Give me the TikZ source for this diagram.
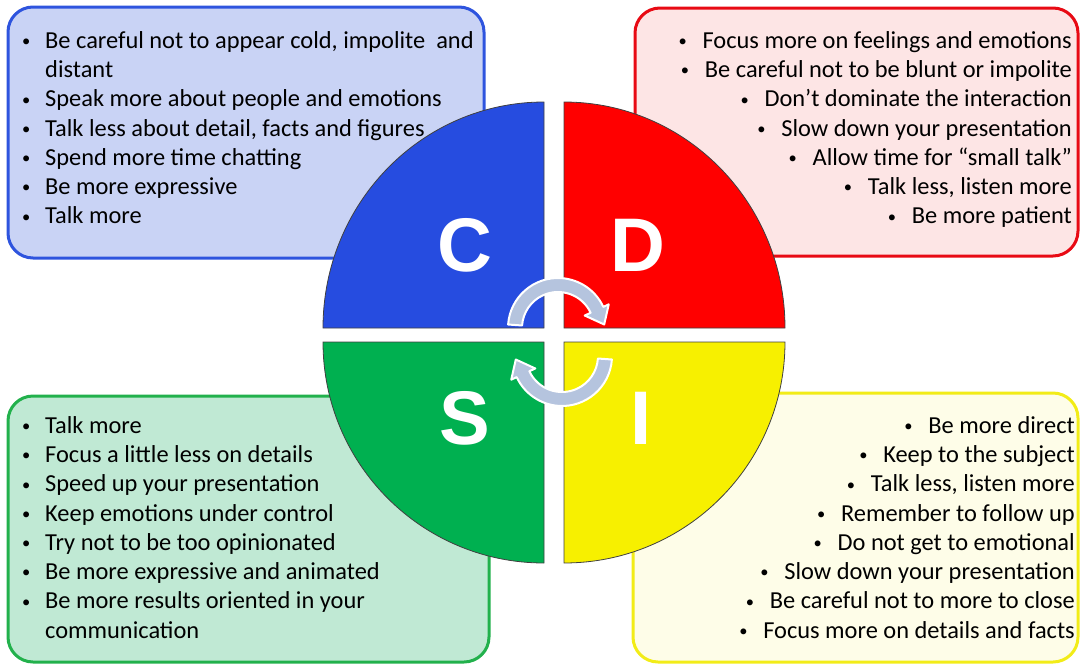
\documentclass[tikz,border=0pt]{standalone}
\usepackage{fontspec}
\setmainfont{Carlito}
\newfontfamily\letterfont{Liberation Sans}
\definecolor{cblue}{RGB}{38,76,224}
\definecolor{cred}{RGB}{255,0,0}
\definecolor{cgreen}{RGB}{0,176,80}
\definecolor{cyellow}{RGB}{247,240,0}
\definecolor{bluebd}{RGB}{46,84,222}
\definecolor{bluebg}{RGB}{201,211,245}
\definecolor{redbd}{RGB}{232,10,20}
\definecolor{redbg}{RGB}{253,229,229}
\definecolor{greenbd}{RGB}{34,177,76}
\definecolor{greenbg}{RGB}{192,233,212}
\definecolor{yellowbd}{RGB}{242,236,24}
\definecolor{yellowbg}{RGB}{254,253,232}
\definecolor{cycgray}{RGB}{181,196,222}
\newcommand\dotmark{\raisebox{1.6pt}{\fontsize{16.5}{16.5}\selectfont •}}
\newcommand\lbul{\makebox[24pt][l]{\hspace{1pt}\dotmark}}
\newcommand\rbul{\makebox[24pt][l]{\dotmark}}
\begin{document}
\begin{tikzpicture}[x=1pt,y=-1pt,
  box/.style={line width=3pt,rounded corners=25pt},
  quad/.style={draw=black!75,line width=0.8pt},
  letter/.style={text=white,font=\letterfont\bfseries\fontsize{76}{76}\selectfont},
  item/.style={inner sep=0pt,font=\fontsize{24.4}{29.25}\selectfont},
  cyc/.style={fill=cycgray,draw=white,line width=2pt,line join=round}]
  \useasboundingbox (0,0) rectangle (1080,665);
  \draw[box,draw=bluebd,fill=bluebg] (8,7) rectangle (484,258);
  \draw[box,draw=redbd,fill=redbg] (635,8) rectangle (1078,256);
  \draw[box,draw=greenbd,fill=greenbg] (8,396) rectangle (489,662);
  \draw[box,draw=yellowbd,fill=yellowbg] (633,393) rectangle (1078,662);
  \filldraw[quad,fill=cblue] (544,328) -- (323,328) arc[start angle=180,end angle=270,x radius=221,y radius=226] -- cycle;
  \filldraw[quad,fill=cred] (564,328) -- (564,102) arc[start angle=270,end angle=360,x radius=221,y radius=226] -- cycle;
  \filldraw[quad,fill=cgreen] (544,342) -- (323,342) arc[start angle=180,end angle=90,x radius=221,y radius=221] -- cycle;
  \filldraw[quad,fill=cyellow] (564,342) -- (785,342) arc[start angle=0,end angle=90,x radius=221,y radius=221] -- cycle;
  \node[letter] (C) at (465,245) {C};
  \node[letter] (D) at (638,245) {D};
  \node[letter] (S) at (465,418) {S};
  \node[letter] (I) at (641,418) {I};
  \begin{scope}[shift={(558,328)}]
    \filldraw[cyc] (184:50) arc[start angle=184,end angle=335,radius=50] -- (335:56) -- (46.2,-3.5) -- (335:29.5) -- (335:36) arc[start angle=335,end angle=184,radius=36] -- cycle;
  \end{scope}
  \begin{scope}[shift={(562,356)}]
    \filldraw[cyc] (4:50) arc[start angle=4,end angle=155,radius=50] -- (155:56) -- (-46.2,3.5) -- (155:29.5) -- (155:36) arc[start angle=155,end angle=4,radius=36] -- cycle;
  \end{scope}
  \foreach \txt [count=\i] in {{\lbul Be careful not to appear cold, impolite\ \ and},
      {\makebox[24pt]{}distant},{\lbul Speak more about people and emotions},
      {\lbul Talk less about detail, facts and figures},{\lbul Spend more time chatting},
      {\lbul Be more expressive},{\lbul Talk more}}
    \node[item,anchor=base west] (c\i) at (21,{48.3+29.25*(\i-1)}) {\txt};
  \foreach \txt [count=\i] in {{\rbul Focus more on feelings and emotions},
      {\rbul Be careful not to be blunt or impolite},{\rbul Don’t dominate the interaction},
      {\rbul Slow down your presentation},{\rbul Allow time for “small talk”},
      {\rbul Talk less, listen more},{\rbul Be more patient}}
    \node[item,anchor=base east] (d\i) at (1072,{48.3+29.25*(\i-1)}) {\txt};
  \foreach \txt [count=\i] in {{\lbul Talk more},{\lbul Focus a little less on details},
      {\lbul Speed up your presentation},{\lbul Keep emotions under control},
      {\lbul Try not to be too opinionated},{\lbul Be more expressive and animated},
      {\lbul Be more results oriented in your},{\makebox[24pt]{}communication}}
    \node[item,anchor=base west] (s\i) at (21,{433.3+29.25*(\i-1)}) {\txt};
  \foreach \txt [count=\i] in {{\rbul Be more direct},{\rbul Keep to the subject},
      {\rbul Talk less, listen more},{\rbul Remember to follow up},
      {\rbul Do not get to emotional},{\rbul Slow down your presentation},
      {\rbul Be careful not to more to close},{\rbul Focus more on details and facts}}
    \node[item,anchor=base east] (i\i) at (1075,{433.3+29.25*(\i-1)}) {\txt};
\end{tikzpicture}
\end{document}
